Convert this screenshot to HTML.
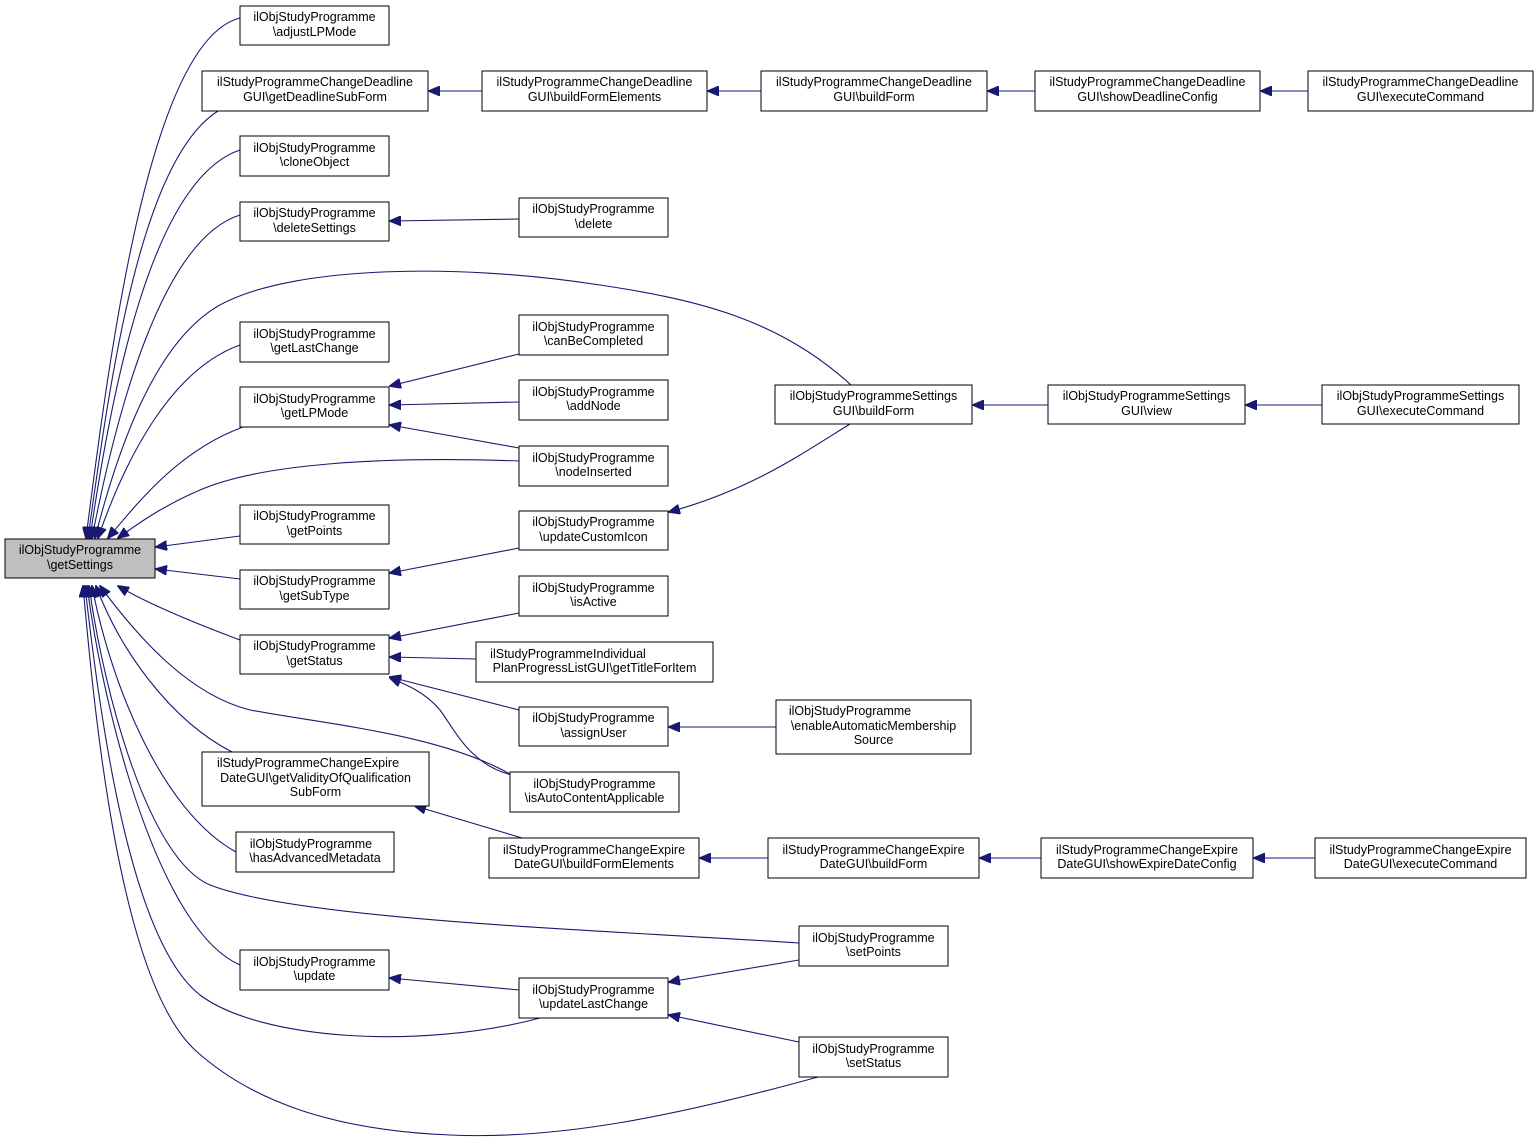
<!DOCTYPE html>
<html><head><meta charset="utf-8"><style>
html,body{margin:0;padding:0;background:#fff}
svg text{font-family:"Liberation Sans",Helvetica,Arial,sans-serif;font-size:12.5px;fill:#000}
.n{fill:#fff;stroke:#000;stroke-width:1}
.e{fill:none;stroke:#191970;stroke-width:1.1}
</style></head><body>
<svg width="1539" height="1142" viewBox="0 0 1539 1142" xmlns="http://www.w3.org/2000/svg">
<defs><marker id="a" markerWidth="12" markerHeight="10" refX="11" refY="5" orient="auto" markerUnits="userSpaceOnUse"><path d="M0,0 L12,5 L0,10 z" fill="#191970" stroke="#191970"/></marker></defs>
<g class="edges">
<path class="e" marker-end="url(#a)" d="M240,18 C150,40 110,350 86,538"/>
<path class="e" marker-end="url(#a)" d="M218,111 C140,160 110,380 88,538"/>
<path class="e" marker-end="url(#a)" d="M240,150 C150,180 110,400 90,538"/>
<path class="e" marker-end="url(#a)" d="M240,215 C160,240 115,420 92,538"/>
<path class="e" marker-end="url(#a)" d="M851,385 C780,320 700,300 600,285 C450,262 300,268 230,300 C160,330 120,440 95,538"/>
<path class="e" marker-end="url(#a)" d="M240,345 C170,370 125,460 98,538"/>
<path class="e" marker-end="url(#a)" d="M243,427 C180,450 140,500 108,538"/>
<path class="e" marker-end="url(#a)" d="M519,461 C380,456 260,464 200,490 C165,505 140,522 118,538"/>
<path class="e" marker-end="url(#a)" d="M240,536 L156,547"/>
<path class="e" marker-end="url(#a)" d="M240,579 L156,569"/>
<path class="e" marker-end="url(#a)" d="M240,640 C200,625 150,605 118,586"/>
<path class="e" marker-end="url(#a)" d="M520,780 C450,735 330,725 250,710 C190,695 140,640 100,586"/>
<path class="e" marker-end="url(#a)" d="M232,752 C170,720 120,650 96,586"/>
<path class="e" marker-end="url(#a)" d="M236,852 C160,810 110,680 92,586"/>
<path class="e" marker-end="url(#a)" d="M799,943 C600,930 300,920 210,885 C150,860 105,700 89,586"/>
<path class="e" marker-end="url(#a)" d="M240,965 C160,930 105,720 87,586"/>
<path class="e" marker-end="url(#a)" d="M540,1018 C420,1050 260,1040 200,995 C130,940 100,720 85,586"/>
<path class="e" marker-end="url(#a)" d="M818,1077 C680,1115 560,1140 450,1135 C330,1130 250,1100 195,1050 C120,980 95,720 83,586"/>
<path class="e" marker-end="url(#a)" d="M482,91 L429,91"/>
<path class="e" marker-end="url(#a)" d="M761,91 L708,91"/>
<path class="e" marker-end="url(#a)" d="M1035,91 L988,91"/>
<path class="e" marker-end="url(#a)" d="M1308,91 L1261,91"/>
<path class="e" marker-end="url(#a)" d="M519,219 L390,221"/>
<path class="e" marker-end="url(#a)" d="M519,354 L390,386"/>
<path class="e" marker-end="url(#a)" d="M519,402 L390,405"/>
<path class="e" marker-end="url(#a)" d="M519,448 L390,425"/>
<path class="e" marker-end="url(#a)" d="M1048,405 L973,405"/>
<path class="e" marker-end="url(#a)" d="M1322,405 L1246,405"/>
<path class="e" marker-end="url(#a)" d="M850,424 C800,455 750,490 669,512"/>
<path class="e" marker-end="url(#a)" d="M519,548 L390,573"/>
<path class="e" marker-end="url(#a)" d="M519,613 L390,638"/>
<path class="e" marker-end="url(#a)" d="M476,659 L390,657"/>
<path class="e" marker-end="url(#a)" d="M519,710 L390,677"/>
<path class="e" marker-end="url(#a)" d="M512,775 C470,765 455,730 440,710 C425,692 405,684 390,678"/>
<path class="e" marker-end="url(#a)" d="M776,727 L669,727"/>
<path class="e" marker-end="url(#a)" d="M522,838 L415,806"/>
<path class="e" marker-end="url(#a)" d="M768,858 L700,858"/>
<path class="e" marker-end="url(#a)" d="M1041,858 L980,858"/>
<path class="e" marker-end="url(#a)" d="M1315,858 L1254,858"/>
<path class="e" marker-end="url(#a)" d="M519,990 L390,978"/>
<path class="e" marker-end="url(#a)" d="M799,960 L669,982"/>
<path class="e" marker-end="url(#a)" d="M799,1042 L669,1015"/>
</g>
<g text-anchor="middle">
<rect x="5" y="539" width="150" height="39" fill="#bfbfbf" stroke="#000"/><text x="80" y="554">ilObjStudyProgramme</text><text x="80" y="569">\getSettings</text>
<rect class="n" x="240" y="6" width="149" height="39"/><text x="314.5" y="21">ilObjStudyProgramme</text><text x="314.5" y="36">\adjustLPMode</text>
<rect class="n" x="202" y="71" width="226" height="40"/><text x="315" y="86">ilStudyProgrammeChangeDeadline</text><text x="315" y="101">GUI\getDeadlineSubForm</text>
<rect class="n" x="482" y="71" width="225" height="40"/><text x="594.5" y="86">ilStudyProgrammeChangeDeadline</text><text x="594.5" y="101">GUI\buildFormElements</text>
<rect class="n" x="761" y="71" width="226" height="40"/><text x="874" y="86">ilStudyProgrammeChangeDeadline</text><text x="874" y="101">GUI\buildForm</text>
<rect class="n" x="1035" y="71" width="225" height="40"/><text x="1147.5" y="86">ilStudyProgrammeChangeDeadline</text><text x="1147.5" y="101">GUI\showDeadlineConfig</text>
<rect class="n" x="1308" y="71" width="225" height="40"/><text x="1420.5" y="86">ilStudyProgrammeChangeDeadline</text><text x="1420.5" y="101">GUI\executeCommand</text>
<rect class="n" x="240" y="136" width="149" height="40"/><text x="314.5" y="152">ilObjStudyProgramme</text><text x="314.5" y="166">\cloneObject</text>
<rect class="n" x="240" y="202" width="149" height="39"/><text x="314.5" y="217">ilObjStudyProgramme</text><text x="314.5" y="232">\deleteSettings</text>
<rect class="n" x="519" y="198" width="149" height="39"/><text x="593.5" y="213">ilObjStudyProgramme</text><text x="593.5" y="228">\delete</text>
<rect class="n" x="240" y="322" width="149" height="40"/><text x="314.5" y="338">ilObjStudyProgramme</text><text x="314.5" y="352">\getLastChange</text>
<rect class="n" x="519" y="315" width="149" height="40"/><text x="593.5" y="331">ilObjStudyProgramme</text><text x="593.5" y="345">\canBeCompleted</text>
<rect class="n" x="240" y="387" width="149" height="40"/><text x="314.5" y="403">ilObjStudyProgramme</text><text x="314.5" y="417">\getLPMode</text>
<rect class="n" x="519" y="380" width="149" height="40"/><text x="593.5" y="396">ilObjStudyProgramme</text><text x="593.5" y="410">\addNode</text>
<rect class="n" x="519" y="446" width="149" height="40"/><text x="593.5" y="462">ilObjStudyProgramme</text><text x="593.5" y="476">\nodeInserted</text>
<rect class="n" x="775" y="385" width="197" height="39"/><text x="873.5" y="400">ilObjStudyProgrammeSettings</text><text x="873.5" y="415">GUI\buildForm</text>
<rect class="n" x="1048" y="385" width="197" height="39"/><text x="1146.5" y="400">ilObjStudyProgrammeSettings</text><text x="1146.5" y="415">GUI\view</text>
<rect class="n" x="1322" y="385" width="197" height="39"/><text x="1420.5" y="400">ilObjStudyProgrammeSettings</text><text x="1420.5" y="415">GUI\executeCommand</text>
<rect class="n" x="240" y="505" width="149" height="39"/><text x="314.5" y="520">ilObjStudyProgramme</text><text x="314.5" y="535">\getPoints</text>
<rect class="n" x="519" y="511" width="149" height="39"/><text x="593.5" y="526">ilObjStudyProgramme</text><text x="593.5" y="541">\updateCustomIcon</text>
<rect class="n" x="240" y="570" width="149" height="39"/><text x="314.5" y="585">ilObjStudyProgramme</text><text x="314.5" y="600">\getSubType</text>
<rect class="n" x="519" y="576" width="149" height="40"/><text x="593.5" y="592">ilObjStudyProgramme</text><text x="593.5" y="606">\isActive</text>
<rect class="n" x="240" y="635" width="149" height="39"/><text x="314.5" y="650">ilObjStudyProgramme</text><text x="314.5" y="665">\getStatus</text>
<rect class="n" x="476" y="642" width="237" height="40"/><text x="568" y="658" text-anchor="middle">ilStudyProgrammeIndividual</text><text x="594.5" y="672">PlanProgressListGUI\getTitleForItem</text>
<rect class="n" x="519" y="707" width="149" height="39"/><text x="593.5" y="722">ilObjStudyProgramme</text><text x="593.5" y="737">\assignUser</text>
<rect class="n" x="776" y="700" width="195" height="54"/><text x="850" y="715">ilObjStudyProgramme</text><text x="873.5" y="730">\enableAutomaticMembership</text><text x="873.5" y="744">Source</text>
<rect class="n" x="510" y="772" width="169" height="40"/><text x="594.5" y="788">ilObjStudyProgramme</text><text x="594.5" y="802">\isAutoContentApplicable</text>
<rect class="n" x="202" y="752" width="227" height="54"/><text x="308" y="767">ilStudyProgrammeChangeExpire</text><text x="315.5" y="782">DateGUI\getValidityOfQualification</text><text x="315.5" y="796">SubForm</text>
<rect class="n" x="236" y="832" width="158" height="40"/><text x="311" y="848">ilObjStudyProgramme</text><text x="315" y="862">\hasAdvancedMetadata</text>
<rect class="n" x="489" y="838" width="210" height="40"/><text x="594" y="854">ilStudyProgrammeChangeExpire</text><text x="594" y="868">DateGUI\buildFormElements</text>
<rect class="n" x="768" y="838" width="211" height="40"/><text x="873.5" y="854">ilStudyProgrammeChangeExpire</text><text x="873.5" y="868">DateGUI\buildForm</text>
<rect class="n" x="1041" y="838" width="212" height="40"/><text x="1147" y="854">ilStudyProgrammeChangeExpire</text><text x="1147" y="868">DateGUI\showExpireDateConfig</text>
<rect class="n" x="1315" y="838" width="211" height="40"/><text x="1420.5" y="854">ilStudyProgrammeChangeExpire</text><text x="1420.5" y="868">DateGUI\executeCommand</text>
<rect class="n" x="799" y="926" width="149" height="40"/><text x="873.5" y="942">ilObjStudyProgramme</text><text x="873.5" y="956">\setPoints</text>
<rect class="n" x="240" y="950" width="149" height="40"/><text x="314.5" y="966">ilObjStudyProgramme</text><text x="314.5" y="980">\update</text>
<rect class="n" x="519" y="978" width="149" height="40"/><text x="593.5" y="994">ilObjStudyProgramme</text><text x="593.5" y="1008">\updateLastChange</text>
<rect class="n" x="799" y="1037" width="149" height="40"/><text x="873.5" y="1053">ilObjStudyProgramme</text><text x="873.5" y="1067">\setStatus</text>
</g>
</svg>
</body></html>
